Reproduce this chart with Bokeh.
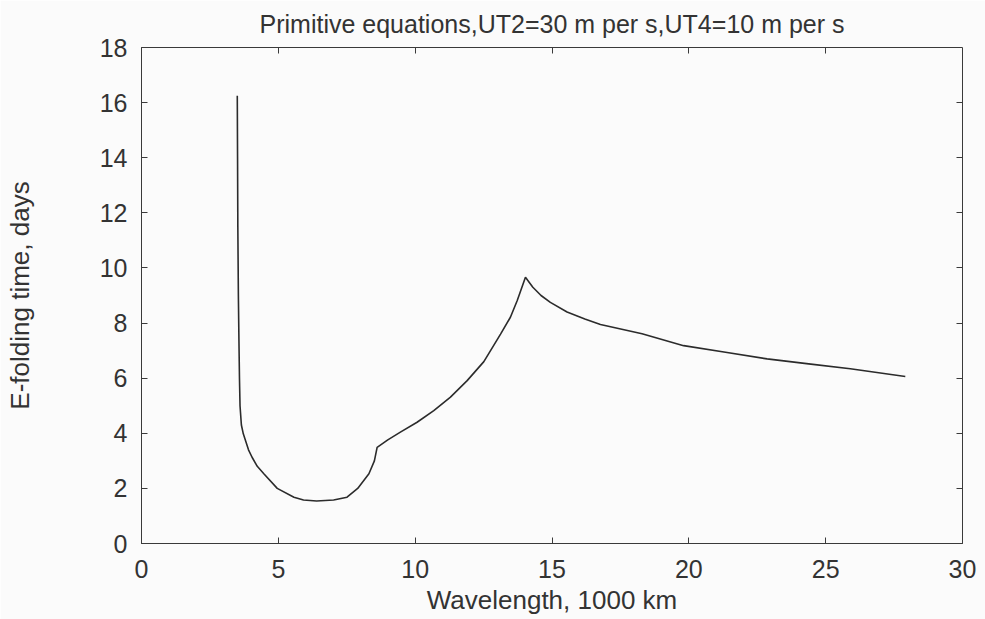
from bokeh.plotting import figure
from bokeh.models import LinearAxis, FixedTicker, Range1d
from bokeh.embed import file_html
from bokeh.resources import INLINE

# Data
wavelength = [3.50, 3.51, 3.52, 3.54, 3.56, 3.58, 3.60, 3.65, 3.72, 3.80, 3.91, 4.04, 4.23,
              4.47, 4.96, 5.57, 5.92, 6.40, 7.02, 7.51, 7.90, 8.31, 8.51, 8.61,
              9.00, 9.46, 10.07, 10.68, 11.29, 11.90, 12.51, 13.12, 13.48, 13.73, 14.03,
              14.30, 14.60, 14.94, 15.55, 16.20, 16.77, 18.29, 19.81, 21.34, 22.86, 24.38,
              25.90, 27.91]
efold = [16.25, 14.0, 11.5, 9.0, 7.4, 6.0, 5.0, 4.30, 3.98, 3.74, 3.40, 3.13, 2.80,
         2.53, 2.00, 1.68, 1.58, 1.54, 1.58, 1.68, 2.00, 2.53, 3.00, 3.49,
         3.76, 4.04, 4.40, 4.82, 5.31, 5.91, 6.60, 7.60, 8.21, 8.82, 9.66,
         9.30, 9.00, 8.75, 8.40, 8.15, 7.95, 7.61, 7.18, 6.94, 6.70, 6.52,
         6.34, 6.06]

x_ticks = [0, 5, 10, 15, 20, 25, 30]
y_ticks = [0, 2, 4, 6, 8, 10, 12, 14, 16, 18]

title_text = "Primitive equations,UT2=30 m per s,UT4=10 m per s"
x_label = "Wavelength, 1000 km"
y_label = "E-folding time, days"

FONT = "Liberation Sans"
TXT = "#333333"
BG = "#fbfbfb"

p = figure(width=985, height=619, output_backend="svg", toolbar_location=None,
           x_range=Range1d(0, 30), y_range=Range1d(0, 18),
           min_border_left=141, min_border_right=23,
           min_border_top=47, min_border_bottom=76,
           background_fill_color=BG, border_fill_color=BG)

p.title.text = title_text
p.title.align = "center"
p.title.vertical_align = "top"
p.title.text_font = FONT
p.title.text_font_size = "25px"
p.title.text_font_style = "normal"
p.title.text_color = TXT
p.title.standoff = 16

p.xgrid.visible = False
p.ygrid.visible = False
p.outline_line_color = "#3a3a3a"
p.outline_line_width = 1

for ax, ticks in ((p.xaxis[0], x_ticks), (p.yaxis[0], y_ticks)):
    ax.ticker = FixedTicker(ticks=ticks)
    ax.major_tick_in = 6
    ax.major_tick_out = 0
    ax.minor_tick_line_color = None
    ax.major_tick_line_color = "#3a3a3a"
    ax.axis_line_color = "#3a3a3a"
    ax.major_label_text_font = FONT
    ax.major_label_text_font_size = "25px"
    ax.major_label_text_color = TXT
    ax.axis_label_text_font = FONT
    ax.axis_label_text_font_size = "26px"
    ax.axis_label_text_font_style = "normal"
    ax.axis_label_text_color = TXT

p.xaxis[0].axis_label = x_label
p.xaxis[0].major_label_standoff = 16
p.xaxis[0].axis_label_standoff = 4
p.yaxis[0].axis_label = y_label
p.yaxis[0].major_label_standoff = 14
p.yaxis[0].axis_label_standoff = 62

# tick-only axes on top and right (labels not painted)
top = LinearAxis(ticker=FixedTicker(ticks=x_ticks[1:-1]))
right = LinearAxis(ticker=FixedTicker(ticks=y_ticks[1:-1]))
for ax in (top, right):
    ax.major_tick_in = 6
    ax.major_tick_out = 0
    ax.minor_tick_line_color = None
    ax.major_tick_line_color = "#3a3a3a"
    ax.axis_line_color = None
    ax.major_label_text_font_size = "2px"
    ax.major_label_text_color = None
    ax.major_label_standoff = 0
p.add_layout(top, "above")
p.add_layout(right, "right")

p.line(wavelength, efold, line_color="#2b2b2b", line_width=1.6)

open("out.html", "w").write(file_html(p, INLINE))
